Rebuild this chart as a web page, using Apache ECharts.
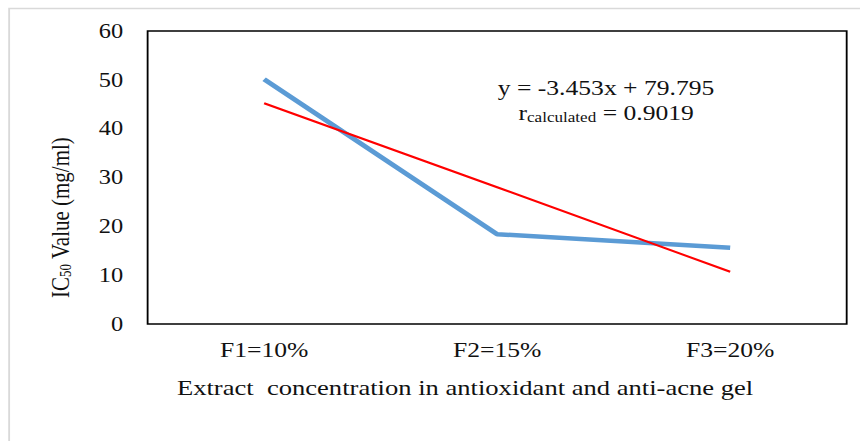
<!DOCTYPE html>
<html>
<head>
<meta charset="utf-8">
<script src="https://cdn.jsdelivr.net/npm/echarts@6/dist/echarts.min.js"></script>
<style>
html, body { margin: 0; padding: 0; background: #fff; overflow: hidden; }
/* the source figure is a little stretched sideways, so draw narrower and widen */
#chart { width: 705px; height: 441px; transform: scaleX(1.22); transform-origin: 0 0; }
</style>
</head>
<body>
<div id="chart"></div>
<script>
// categories on the x axis
const categories = ['F1=10%', 'F2=15%', 'F3=20%']
// measured IC50 values (mg/ml)
const ic50Values = [50.1, 18.4, 15.6]
// linear trend line values
const trendValues = [45.2, 28.0, 10.7]
const yTicks = { min: 0, max: 60, interval: 10 }

const font = 'Liberation Serif'
const ink = '#111'
// svg keeps the text sharp after the css stretch
let chart = echarts.init(document.getElementById('chart'), null, { renderer: 'svg' })

let option = {
    animation: false,
    backgroundColor: '#fff',
    textStyle: { fontFamily: font },
    grid: {
        left: 121,
        top: 31,
        right: 11,
        bottom: 117,
        show: true,
        borderColor: '#000',
        borderWidth: 1.5,
        backgroundColor: 'transparent'
    },
    title: {
        text: 'Extract  concentration in antioxidant and anti-acne gel',
        left: 145,
        top: 376,
        padding: 0,
        textStyle: { fontFamily: font, fontSize: 21.8, fontWeight: 'normal', color: ink }
    },
    xAxis: {
        type: 'category',
        data: categories,
        boundaryGap: true,
        axisTick: { show: false },
        axisLine: { show: false },
        axisLabel: { margin: 15, fontFamily: font, fontSize: 21, color: ink },
        splitLine: { show: false }
    },
    yAxis: {
        type: 'value',
        min: yTicks.min,
        max: yTicks.max,
        interval: yTicks.interval,
        axisTick: { show: false },
        axisLine: { show: false },
        splitLine: { show: false },
        axisLabel: { margin: 20, fontFamily: font, fontSize: 20, color: ink },
        name: 'IC{sub|50} Value (mg/ml)',
        nameLocation: 'middle',
        nameGap: 61,
        nameRotate: 90,
        nameTextStyle: {
            fontFamily: font,
            fontSize: 21,
            color: ink,
            padding: [0, 80, 0, 0],
            rich: {
                sub: { fontFamily: font, fontSize: 13, color: ink, padding: [9, 0, 0, 0] }
            }
        }
    },
    graphic: [
        {
            type: 'rect',
            silent: true,
            shape: { x: 7.5, y: 8.5, width: 1000, height: 600 },
            style: { fill: 'none', stroke: '#d9d9d9', lineWidth: 1.5 },
            z: -10
        },
        {
            type: 'text',
            left: 408,
            top: 77,
            style: {
                text: 'y = -3.453x + 79.795',
                fontFamily: font,
                fontSize: 21,
                fill: ink
            }
        },
        {
            type: 'text',
            left: 425,
            top: 102,
            style: {
                text: 'r{sub|calculated} = 0.9019',
                fontFamily: font,
                fontSize: 21,
                fill: ink,
                rich: {
                    sub: { fontFamily: font, fontSize: 14, fill: ink, padding: [10, 0, 0, 0] }
                }
            }
        }
    ],
    series: [
        {
            name: 'IC50',
            type: 'line',
            data: ic50Values,
            symbol: 'none',
            lineStyle: { color: '#5b9bd5', width: 4.5 },
            z: 2
        },
        {
            name: 'Linear',
            type: 'line',
            data: trendValues,
            symbol: 'none',
            lineStyle: { color: '#ff0000', width: 2 },
            z: 3
        }
    ]
}
chart.setOption(option)
</script>
</body>
</html>
